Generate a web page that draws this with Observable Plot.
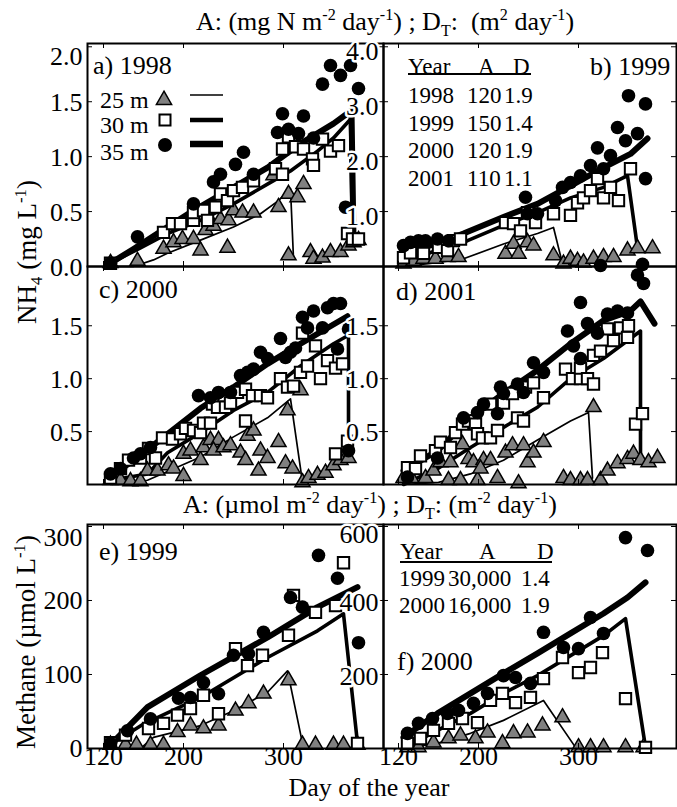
<!DOCTYPE html>
<html><head><meta charset="utf-8">
<script src="https://cdn.jsdelivr.net/npm/d3@7"></script>
<script src="https://cdn.jsdelivr.net/npm/@observablehq/plot@0.6"></script>
<style>
body{margin:0;background:#fff}
#fig{position:relative;width:677px;height:807px;overflow:hidden;background:#fff;font-family:"Liberation Serif","Times New Roman",serif;color:#000}
#fig svg{overflow:visible}
#fig svg text{font-family:"Liberation Serif","Times New Roman",serif}
.t{position:absolute;white-space:nowrap;line-height:1}
.t sup,.t sub{font-size:0.62em;line-height:0}
.ul{position:absolute;height:1.5px;background:#000}
</style></head><body><div id="fig"></div>
<script>
// ---------- shared tick values ----------
const xTicks = [120, 200, 300];

// ---------- a) 1998 NH4 (mg/L) : [day, value] ----------
const a25 = [[127,0.03],[154,0.05],[180,0.16],[190,0.22],[199,0.25],[210,0.25],[217,0.145],[222,0.33],[230,0.37],[237,0.43],[245,0.42],[244,0.17],[250,0.51],[259,0.49],[270,0.49],[295,0.54],[290,0.83],[305,0.10],[305,0.66],[314,0.63],[320,0.75],[327,0.13],[330,0.07],[339,0.08],[347,0.13],[357,0.13],[365,0.19],[370,0.22],[375,0.24]];
const a30 = [[127,0.03],[180,0.31],[189,0.39],[197,0.39],[210,0.42],[210,0.49],[220,0.51],[224,0.42],[232,0.54],[237,0.66],[244,0.60],[250,0.69],[259,0.72],[270,0.78],[292,0.89],[299,0.84],[299,1.07],[305,1.18],[312,1.09],[320,1.07],[329,0.98],[330,0.92],[339,1.16],[347,1.05],[355,1.10],[364,0.30],[369,0.25],[375,0.25]];
const a35 = [[127,0.03],[154,0.27],[210,0.57],[230,0.77],[237,0.84],[252,0.93],[260,1.04],[270,0.84],[294,1.22],[299,1.39],[305,1.25],[315,1.21],[320,1.37],[330,1.17],[339,1.66],[347,1.83],[357,1.74],[367,1.83],[375,1.62],[362,0.54]];
const a25L = [[127,0.0],[150,0.0],[170,0.06],[184,0.12],[217,0.24],[250,0.36],[277,0.48],[295,0.60],[307,0.71],[310,0.07]];
const a30L = [[127,0.03],[157,0.17],[184,0.30],[217,0.42],[250,0.57],[284,0.75],[307,0.87],[334,1.05],[350,1.17],[367,1.34],[369,0.25]];
const a35L = [[127,0.03],[150,0.16],[184,0.36],[210,0.51],[250,0.72],[284,0.90],[317,1.12],[350,1.30],[368,1.42],[370,0.25]];

// ---------- b) 1999 NH4 ----------
const b25 = [[125,0.05],[135,0.10],[145,0.14],[157,0.14],[169,0.17],[180,0.17],[227,0.23],[235,0.41],[240,0.23],[249,0.44],[255,0.38],[275,0.20],[285,0.05],[292,0.14],[299,0.10],[305,0.07],[315,0.14],[325,0.17],[335,0.17],[349,0.29],[359,0.33],[374,0.33]];
const b30 = [[125,0.16],[132,0.25],[145,0.24],[160,0.35],[169,0.29],[175,0.47],[182,0.50],[227,0.80],[235,0.78],[242,0.65],[249,0.98],[257,0.80],[275,0.96],[292,0.93],[299,1.16],[305,1.25],[312,1.38],[319,1.60],[325,1.25],[332,1.44],[340,1.20],[352,1.78]];
const b35 = [[125,0.38],[132,0.44],[140,0.47],[147,0.47],[159,0.50],[170,0.47],[247,1.26],[249,0.96],[259,0.96],[277,1.20],[284,1.44],[292,1.53],[302,1.65],[312,1.84],[319,2.16],[325,1.78],[332,2.02],[339,2.53],[347,2.29],[350,3.11],[359,2.42],[367,2.96],[367,1.60]];
const b25L = [[122,0],[150,0.05],[185,0.14],[225,0.41],[259,0.60],[275,0.71],[284,0.05]];
const b30L = [[122,0.05],[159,0.30],[189,0.47],[225,0.75],[259,0.98],[292,1.25],[325,1.44],[345,1.62],[349,1.65],[357,0.60],[359,0.33]];
const b35L = [[122,0.23],[159,0.42],[185,0.60],[225,0.90],[259,1.14],[292,1.47],[325,1.80],[352,2.05],[369,2.33]];

// ---------- c) 2000 NH4 ----------
const c25 = [[127,0.04],[137,0.04],[147,0.03],[157,0.03],[164,0.13],[174,0.13],[185,0.18],[190,0.15],[200,0.08],[200,0.29],[207,0.32],[217,0.23],[220,0.35],[227,0.42],[235,0.42],[230,0.32],[240,0.35],[247,0.37],[257,0.30],[262,0.23],[264,0.46],[270,0.51],[275,0.13],[277,0.32],[284,0.25],[295,0.40],[302,0.20],[309,0.15],[304,0.70],[317,0.89],[319,0.02],[325,0.06],[334,0.09],[342,0.11],[350,0.18],[357,0.23],[365,0.25]];
const c30 = [[127,0.06],[137,0.15],[145,0.23],[157,0.25],[165,0.34],[172,0.25],[179,0.44],[189,0.43],[197,0.48],[202,0.53],[210,0.51],[217,0.49],[220,0.58],[227,0.58],[229,0.76],[234,0.73],[242,0.73],[247,0.77],[254,0.87],[262,0.90],[262,0.60],[269,0.84],[277,0.84],[284,0.82],[297,1.00],[304,0.92],[310,0.93],[317,1.06],[319,1.43],[324,1.12],[332,1.31],[337,1.00],[344,1.17],[352,1.10],[359,1.14],[364,0.41],[352,0.29]];
const c35 = [[127,0.10],[137,0.15],[150,0.25],[157,0.29],[167,0.35],[215,0.84],[227,0.82],[235,0.87],[247,0.87],[257,1.03],[264,1.06],[270,1.09],[277,1.25],[284,1.19],[297,1.38],[302,1.20],[307,1.25],[312,1.29],[319,1.58],[324,1.48],[330,1.64],[339,1.48],[344,1.67],[350,1.71],[357,1.71],[354,1.28],[365,1.47],[365,0.32]];
const c25L = [[127,0.0],[150,0.02],[164,0.04],[217,0.26],[250,0.45],[284,0.63],[307,0.81],[319,0.02]];
const c30L = [[127,0.04],[164,0.10],[184,0.30],[217,0.49],[250,0.70],[284,0.87],[317,1.12],[350,1.33],[365,1.41],[365,0.41]];
const c35L = [[127,0.07],[167,0.35],[217,0.72],[250,0.92],[284,1.14],[317,1.33],[364,1.59]];

// ---------- d) 2001 NH4 ----------
const d25 = [[125,0.06],[133,0.06],[147,0.06],[155,0.13],[162,0.21],[172,0.21],[184,0.38],[190,0.24],[170,0.04],[182,0.04],[199,0.04],[195,0.21],[205,0.23],[212,0.23],[202,0.15],[219,0.06],[227,0.30],[234,0.37],[245,0.37],[249,0.21],[255,0.30],[265,0.40],[240,0.01],[285,0.06],[292,0.04],[302,0.04],[309,0.04],[322,0.04],[315,0.73],[329,0.13],[339,0.20],[349,0.24],[355,0.29],[362,0.23],[370,0.21],[379,0.25]];
const d30 = [[129,0.16],[137,0.15],[142,0.27],[157,0.32],[162,0.40],[172,0.35],[177,0.49],[184,0.57],[190,0.60],[197,0.57],[199,0.48],[204,0.44],[212,0.44],[219,0.51],[212,0.76],[225,0.77],[234,0.86],[239,0.63],[245,0.60],[247,0.92],[255,0.96],[265,0.82],[287,1.09],[294,1.00],[302,1.00],[302,1.10],[309,1.00],[315,0.95],[315,1.22],[322,1.26],[329,1.47],[335,1.36],[342,1.48],[349,1.39],[350,1.50],[357,0.57],[364,0.67]];
const d35 = [[129,0.07],[159,0.25],[185,0.63],[199,0.68],[205,0.76],[219,0.67],[222,0.92],[225,0.86],[239,0.95],[245,0.87],[255,1.15],[265,1.06],[289,1.45],[295,1.31],[302,1.19],[302,1.72],[309,1.52],[319,1.43],[329,1.61],[339,1.64],[349,1.62],[322,2.07],[364,2.08],[359,1.98],[365,1.90]];
const d25L = [[125,0.0],[160,0.02],[192,0.10],[225,0.23],[259,0.42],[292,0.60],[310,0.68],[314,0.06]];
const d30L = [[125,0.0],[159,0.15],[192,0.35],[225,0.54],[259,0.73],[292,1.00],[325,1.19],[362,1.45],[362,0.23]];
const d35L = [[125,0.13],[159,0.32],[192,0.63],[225,0.86],[259,1.08],[292,1.33],[325,1.55],[352,1.64],[362,1.73],[376,1.52]];

// ---------- e) 1999 Methane (umol/L) ----------
const e25 = [[127,5],[142,5],[153,5],[167,5],[180,5],[194,22],[207,31],[220,27],[235,31],[252,51],[265,61],[280,74],[305,92],[319,5],[332,5],[350,5],[360,5],[374,5]];
const e30 = [[127,8],[142,18],[165,27],[180,34],[194,45],[207,54],[220,72],[235,47],[252,135],[264,112],[279,126],[305,153],[310,207],[332,184],[352,193],[360,251],[374,7]];
const e35 = [[127,7],[144,24],[167,40],[195,68],[207,69],[220,89],[235,74],[250,126],[265,128],[280,157],[307,204],[319,191],[335,261],[354,230],[375,143]];
const e25L = [[127,0],[157,0],[170,15],[217,31],[250,51],[284,76],[304,105],[319,7]];
const e30L = [[127,5],[160,33],[217,69],[284,123],[334,159],[360,182],[374,7]];
const e35L = [[127,5],[164,56],[217,99],[284,150],[334,191],[374,218]];

// ---------- f) 2000 Methane ----------
const f25 = [[129,3],[140,3],[155,16],[170,27],[182,35],[197,27],[209,43],[224,14],[235,41],[249,43],[264,62],[284,84],[300,3],[312,3],[325,3],[347,3],[365,3]];
const f30 = [[129,14],[142,27],[155,49],[170,68],[184,81],[199,70],[212,130],[224,149],[237,124],[252,138],[265,189],[284,246],[300,205],[312,219],[324,259],[347,135],[367,3]];
const f35 = [[129,41],[140,68],[154,81],[169,95],[180,103],[195,122],[209,149],[225,197],[237,192],[252,176],[265,314],[285,273],[300,270],[312,354],[325,311],[347,570],[369,535]];
const f25L = [[125,0],[159,14],[192,41],[225,76],[265,130],[297,3]];
const f30L = [[125,0],[159,49],[192,95],[225,149],[259,197],[292,251],[325,305],[347,351],[367,3]];
const f35L = [[125,30],[159,95],[192,149],[225,203],[259,257],[292,311],[325,365],[349,408],[367,449]];

// ---------- tick labels ----------
const yTicksA = [0, 0.5, 1.0, 1.5, 2.0];
const yTicksB = [1.0, 2.0, 3.0, 4.0];
const yTicksCD = [0.5, 1.0, 1.5];
const yTicksE = [0, 100, 200, 300];
const yTicksF = [200, 400, 600];

// ---------- tables / legend text ----------
const nh4Years = ["1998", "1999", "2000", "2001"];
const nh4A = ["120", "150", "120", "110"];
const nh4D = ["1.9", "1.4", "1.9", "1.1"];
const ch4Years = ["1999", "2000"];
const ch4A = ["30,000", "16,000"];
const ch4D = ["1.4", "1.9"];
const legendLabels = ["25 m", "30 m", "35 m"];

const fig = document.getElementById("fig");
const XY = {x: d => d[0], y: d => d[1]};
const SERIF = "Liberation Serif";

function panel(p) {
  const f1 = d => d.toFixed(1), f0 = d => String(d);
  const fmt = p.int ? f0 : f1;
  const lab = {frameAnchor: "left", textAnchor: "end", dx: -5, fontSize: p.fs, fontFamily: SERIF, fill: "black"};
  if (p.halo) Object.assign(lab, {stroke: "white", strokeWidth: 5});
  const marks = [
    Plot.line(p.l25, {...XY, stroke: "black", strokeWidth: 1.7}),
    Plot.line(p.l30, {...XY, stroke: "black", strokeWidth: 3.6}),
    Plot.line(p.l35, {...XY, stroke: "black", strokeWidth: 6}),
    Plot.dot(p.tri, {...XY, symbol: "triangle", r: 5.6, fill: "#808080", stroke: "black", strokeWidth: 1.5}),
    Plot.dot(p.sq, {...XY, symbol: "square", r: 6.4, fill: "white", stroke: "black", strokeWidth: 2}),
    Plot.dot(p.ci, {...XY, r: 6.8, fill: "black", stroke: "none"}),
    Plot.frame({stroke: "black", strokeWidth: 2}),
    Plot.tickX(xTicks, {x: d => d, insetBottom: p.h - 5, stroke: "black"}),
    Plot.tickX(xTicks, {x: d => d, insetTop: p.h - 5, stroke: "black"}),
    Plot.tickY(p.yTicks, {y: d => d, insetRight: p.w - 5, stroke: "black"}),
    Plot.tickY(p.yTicks, {y: d => d, insetLeft: p.w - 5, stroke: "black"}),
    Plot.text(p.yTicks.filter(v => v !== p.top), {...lab, y: d => d, text: fmt, dy: p.dyMain}),
    Plot.text(p.yTicks.filter(v => v === p.top), {...lab, y: d => d, text: fmt, dy: p.dyTop})
  ];
  if (p.xLabels) marks.push(Plot.text(xTicks, {x: d => d, text: f0, frameAnchor: "bottom", dy: 16, fontSize: 26, fontFamily: SERIF, fill: "black"}));
  const svg = Plot.plot({
    width: p.w, height: p.h, margin: 0,
    x: {domain: p.xd, range: [0, p.w], axis: null},
    y: {domain: p.yd, range: [p.h, 0], axis: null},
    style: {background: "transparent", overflow: "visible", fontFamily: "'Liberation Serif', serif", fontSize: "23px", color: "black"},
    marks
  });
  const div = document.createElement("div");
  div.style.cssText = `position:absolute;left:${p.left}px;top:${p.ty}px;width:${p.w}px;height:${p.h}px;`;
  div.appendChild(svg);
  fig.appendChild(div);
}

const L = {left: 87, w: 296, xd: [104, 400]};
const R = {left: 383, w: 293, xd: [105, 398]};
const panels = [
  {...L, ty: 43, h: 223, yd: [0, 2.03], tri: a25, sq: a30, ci: a35, l25: a25L, l30: a30L, l35: a35L, yTicks: yTicksA, top: 2.0, dyTop: 10, dyMain: 1, fs: 26},
  {...L, ty: 266, h: 218, yd: [0, 2.06], tri: c25, sq: c30, ci: c35, l25: c25L, l30: c30L, l35: c35L, yTicks: yTicksCD, top: null, dyTop: 0, dyMain: 1, fs: 26},
  {...L, ty: 524, h: 224, yd: [0, 302.7], tri: e25, sq: e30, ci: e35, l25: e25L, l30: e30L, l35: e35L, yTicks: yTicksE, top: 300, dyTop: 11, dyMain: 0, fs: 26, int: true, xLabels: true},
  {...R, ty: 43, h: 223, yd: [0, 4.06], tri: b25, sq: b30, ci: b35, l25: b25L, l30: b30L, l35: b35L, yTicks: yTicksB, top: 4.0, dyTop: 5, dyMain: 5, fs: 26, halo: true},
  {...R, ty: 266, h: 218, yd: [0, 2.06], tri: d25, sq: d30, ci: d35, l25: d25L, l30: d30L, l35: d35L, yTicks: yTicksCD, top: null, dyTop: 0, dyMain: 1, fs: 26, halo: true},
  {...R, ty: 524, h: 224, yd: [0, 605.4], tri: f25, sq: f30, ci: f35, l25: f25L, l30: f30L, l35: f35L, yTicks: yTicksF, top: 600, dyTop: 8, dyMain: 2, fs: 26, int: true, halo: true, xLabels: true}
];
panels.forEach(panel);

// ---------- HTML text overlays ----------
function txt(html, x, y, size, anchor = "left", extra = "") {
  const d = document.createElement("div");
  d.className = "t";
  const tx = anchor === "center" ? "-50%" : anchor === "right" ? "-100%" : "0";
  d.style.cssText = `left:${x}px;top:${y}px;font-size:${size}px;transform:translate(${tx},-50%);${extra}`;
  d.innerHTML = html;
  fig.appendChild(d);
  return d;
}
function uline(x1, x2, y) {
  const d = document.createElement("div");
  d.className = "ul";
  d.style.cssText = `left:${x1}px;top:${y}px;width:${x2 - x1}px;`;
  fig.appendChild(d);
}

txt("A: (mg N m<sup>-2</sup> day<sup>-1</sup>) ; D<sub>T</sub>:&nbsp; (m<sup>2</sup> day<sup>-1</sup>)", 385, 22, 26, "center");
txt("A: (µmol m<sup>-2</sup> day<sup>-1</sup>) ; D<sub>T</sub>: (m<sup>-2</sup> day<sup>-1</sup>)", 370, 505, 26, "center");
txt("Day of the year", 369, 788, 26, "center");
const ylab1 = txt("NH<sub>4</sub> (mg L<sup>-1</sup>)", 27, 252, 27, "center");
ylab1.style.transform = "translate(-50%,-50%) rotate(-90deg)";
const ylab2 = txt("Methane (µmol L<sup>-1</sup>)", 26, 642, 27, "center");
ylab2.style.transform = "translate(-50%,-50%) rotate(-90deg)";

// panel labels
txt("a) 1998", 93, 66, 26);
txt("b) 1999", 590, 67, 26);
txt("c) 2000", 99, 290, 26);
txt("d) 2001", 396, 292, 26);
txt("e) 1999", 99, 552, 26);
txt("f) 2000", 397, 662, 26);

// NH4 table (panel b)
txt("Year", 408, 66, 23); txt("A", 478, 66, 23); txt("D", 513, 66, 23);
uline(408, 531, 73);
nh4Years.forEach((v, i) => {
  const y = 95 + i * 27.5;
  txt(v, 408, y, 23); txt(nh4A[i], 467, y, 23); txt(nh4D[i], 504, y, 23);
});
// Methane table (panel f)
txt("Year", 400, 551, 23); txt("A", 479, 551, 23); txt("D", 537, 551, 23);
uline(400, 552, 561);
ch4Years.forEach((v, i) => {
  const y = 578 + i * 27;
  txt(v, 399, y, 23); txt(ch4A[i], 448, y, 23); txt(ch4D[i], 521, y, 23);
});

// legend (panel a)
const legY = [100, 125, 152];
legendLabels.forEach((s, i) => txt(s, 100, legY[i], 24));
const lg = d3.create("svg").attr("width", 677).attr("height", 807)
  .style("position", "absolute").style("left", "0").style("top", "0").style("pointer-events", "none");
lg.append("path").attr("d", d3.symbol(d3.symbolTriangle, 100)()).attr("transform", "translate(164,100)")
  .attr("fill", "#808080").attr("stroke", "black").attr("stroke-width", 1.5);
lg.append("rect").attr("x", 159.5).attr("y", 114.5).attr("width", 11).attr("height", 11)
  .attr("fill", "white").attr("stroke", "black").attr("stroke-width", 2);
lg.append("circle").attr("cx", 165).attr("cy", 145).attr("r", 7).attr("fill", "black");
[[95, 1.7], [120, 4.5], [144, 6.5]].forEach(([y, w]) =>
  lg.append("line").attr("x1", 190).attr("x2", 223).attr("y1", y).attr("y2", y).attr("stroke", "black").attr("stroke-width", w));
fig.appendChild(lg.node());
</script>
</body></html>
